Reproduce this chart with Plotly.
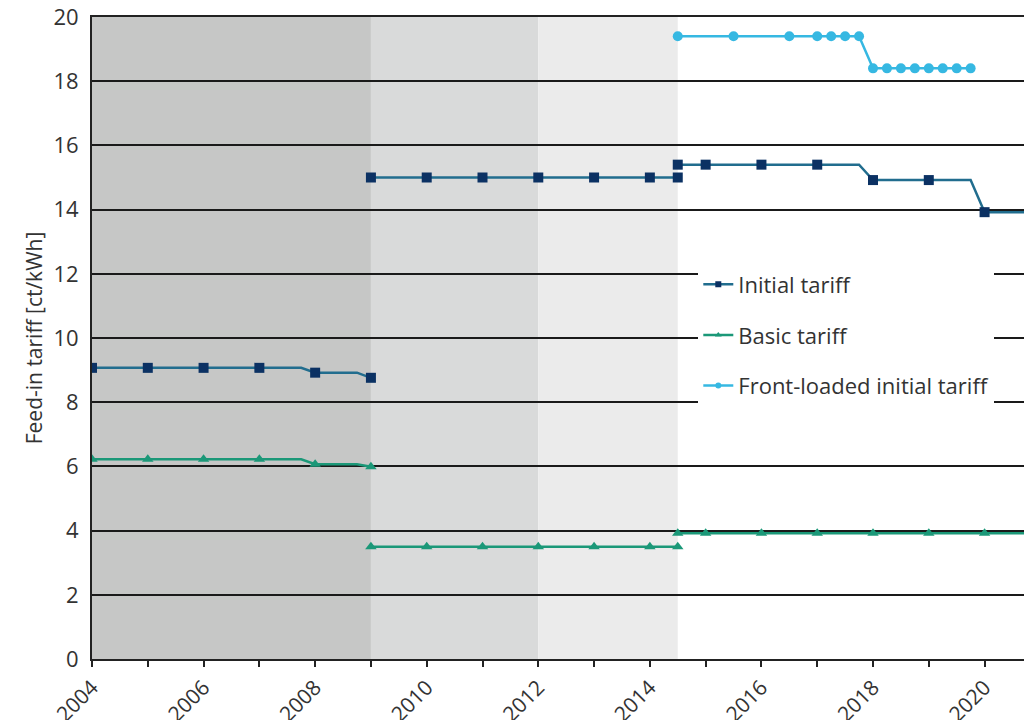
import plotly.graph_objects as go

# background shading for the three tariff periods
period_edges = [2004, 2009, 2012, 2014.5]
period_colors = ["#c6c7c6", "#d9dada", "#ebebeb"]

# Initial tariff [ct/kWh] - None splits the periods, marked=0 is a corner without symbol
init_years = [2004, 2005, 2006, 2007, 2007.75, 2008, 2008.75, 2009, None,
              2009, 2010, 2011, 2012, 2013, 2014, 2014.5, None,
              2014.5, 2015, 2016, 2017, 2017.75, 2018, 2019, 2019.75, 2020, 2020.8]
init_values = [9.07, 9.07, 9.07, 9.07, 9.07, 8.92, 8.92, 8.76, None,
               15.0, 15.0, 15.0, 15.0, 15.0, 15.0, 15.0, None,
               15.4, 15.4, 15.4, 15.4, 15.4, 14.92, 14.92, 14.92, 13.92, 13.92]
init_marked = [1, 1, 1, 1, 0, 1, 0, 1, 0,
               1, 1, 1, 1, 1, 1, 1, 0,
               1, 1, 1, 1, 0, 1, 1, 0, 1, 0]

# Basic tariff [ct/kWh]
basic_years = [2004, 2005, 2006, 2007, 2007.75, 2008, 2008.75, 2009, None,
               2009, 2010, 2011, 2012, 2013, 2014, 2014.5, None,
               2014.5, 2015, 2016, 2017, 2018, 2019, 2020, 2020.8]
basic_values = [6.22, 6.22, 6.22, 6.22, 6.22, 6.07, 6.07, 5.99, None,
                3.5, 3.5, 3.5, 3.5, 3.5, 3.5, 3.5, None,
                3.92, 3.92, 3.92, 3.92, 3.92, 3.92, 3.92, 3.92]
basic_marked = [1, 1, 1, 1, 0, 1, 0, 1, 0,
                1, 1, 1, 1, 1, 1, 1, 0,
                1, 1, 1, 1, 1, 1, 1, 0]

# Front-loaded initial tariff [ct/kWh]
front_years = [2014.5, 2015.5, 2016.5, 2017, 2017.25, 2017.5, 2017.75,
               2018, 2018.25, 2018.5, 2018.75, 2019, 2019.25, 2019.5, 2019.75]
front_values = [19.4, 19.4, 19.4, 19.4, 19.4, 19.4, 19.4,
                18.4, 18.4, 18.4, 18.4, 18.4, 18.4, 18.4, 18.4]

tick_years = list(range(2004, 2021))
tick_labels = [str(y) if y % 2 == 0 else "" for y in tick_years]

FONT = "Open Sans"
TEXT = "#333333"

series = [
    # name, x, y, marked, line colour, marker colour, symbol, size
    ("Initial tariff", init_years, init_values, init_marked,
     "#216d8e", "#0b3163", "square", 10),
    ("Basic tariff", basic_years, basic_values, basic_marked,
     "#1b9878", "#1b9878", "triangle-up", 10),
    ("Front-loaded initial tariff", front_years, front_values,
     [1] * len(front_years), "#36b8e2", "#36b8e2", "circle", 10),
]

fig = go.Figure()

for name, xs, ys, marked, lcol, mcol, sym, size in series:
    fig.add_trace(go.Scatter(
        x=xs, y=ys, mode="lines+markers", name=name, showlegend=False,
        line=dict(color=lcol, width=2.5),
        marker=dict(symbol=sym, color=mcol, opacity=1, line=dict(width=0),
                    size=[size if m else 0 for m in marked]),
    ))
    # legend entry with the small symbol used in the key
    fig.add_trace(go.Scatter(
        x=[None], y=[None], mode="lines+markers", name=name, legendgroup=name,
        line=dict(color=lcol, width=2.5),
        marker=dict(symbol=sym, color=mcol, size=6),
    ))

# shaded periods
for i, col in enumerate(period_colors):
    fig.add_shape(type="rect", xref="x", yref="paper",
                  x0=period_edges[i], x1=period_edges[i + 1], y0=0, y1=1,
                  fillcolor=col, line=dict(width=0), layer="below")

fig.update_xaxes(
    range=[2004, 2020.85], tickmode="array", automargin=False,
    tickvals=tick_years, ticktext=tick_labels, tickangle=-45,
    ticks="outside", ticklen=6, tickwidth=2, tickcolor="#222",
    showgrid=False, showline=True, mirror=True, linecolor="#222", linewidth=2,
    zeroline=False, tickfont=dict(family=FONT, size=21, color=TEXT),
)
fig.update_yaxes(
    range=[0, 20], dtick=2, showgrid=True, gridcolor="#1a1a1a", gridwidth=2.2,
    showline=True, linecolor="#222", linewidth=2, zeroline=False,
    automargin=False, ticklabelstandoff=7, ticklabeloverflow="allow",
    tickfont=dict(family=FONT, size=22, color=TEXT),
    title=dict(text="Feed-in tariff [ct/kWh]", standoff=5,
               font=dict(family=FONT, size=21, color=TEXT)),
)

# the page body adds an 8 px offset, so margins are shifted to compensate
fig.update_layout(
    width=1032, height=720,
    margin=dict(l=84, r=8, t=9, b=69, autoexpand=False),
    plot_bgcolor="white", paper_bgcolor="white",
    showlegend=True,
    legend=dict(x=0.645, y=0.616, xanchor="left", yanchor="top",
                bgcolor="white", borderwidth=0, tracegroupgap=19,
                font=dict(family=FONT, size=22, color=TEXT)),
)

fig.write_html("out.html")
